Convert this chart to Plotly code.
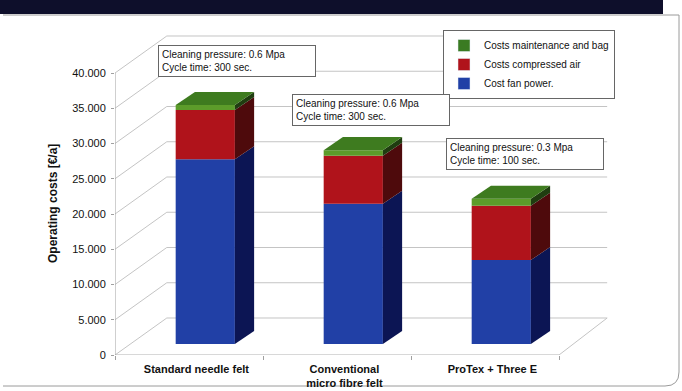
import plotly.graph_objects as go

# ---------------- data ----------------
categories = ["Standard needle felt", "Conventional<br>micro fibre felt", "ProTex + Three E"]
fan_power = [26200, 19900, 11900]          # Cost fan power
compressed_air = [7000, 6800, 7700]        # Costs compressed air
maintenance_bag = [700, 800, 1000]         # Costs maintenance and bag
series_names = ["Cost fan power.", "Costs compressed air", "Costs maintenance and bag"]
notes = ["Cleaning pressure: 0.6 Mpa<br>Cycle time: 300 sec.",
         "Cleaning pressure: 0.6 Mpa<br>Cycle time: 300 sec.",
         "Cleaning pressure: 0.3 Mpa<br>Cycle time: 100 sec."]
y_ticks = list(range(0, 40001, 5000))

# ---------------- geometry / style ----------------
WIDTH, HEIGHT = 682, 391
L, R, T, B = 115, 615, 30, 355
PW, PH = R - L, B - T
CAT_PX = 148.0
PX_PER_UNIT_Y = 7.05 / 1000.0
XMIN = -0.5
XMAX = XMIN + PW / CAT_PX
YMAX = PH / PX_PER_UNIT_Y

wall_dx, wall_dy = 0.35, 5250          # depth of the 3D box
bar_base, bar_w, bar_off = 1560, 0.40, -0.09
bar_dx, bar_dy = 0.13, 1850            # depth of the bars

front_cols = ["#2140a6", "#b0131b", "#5c9c2a"]
side_cols = ["#0c1554", "#4e0a0c", "#1f3d10"]
top_col = "#3e7b1f"
legend_cols = ["#2140a6", "#b0131b", "#3a7b22"]
grid_col = "#c4c4c4"
FONT = "Arial, Liberation Sans, sans-serif"


def px_x(px):
    return (px - L) / PW


def px_y(py):
    return (B - py) / PH


series = [fan_power, compressed_air, maintenance_bag]
xs = list(range(len(categories)))

fig = go.Figure()
shapes = []

# stacked bars (front faces) with explicit bases
cum = [bar_base] * len(categories)
for s_idx, vals in enumerate(series):
    fig.add_trace(go.Bar(
        x=xs, y=vals, base=list(cum), width=bar_w, offset=bar_off,
        name=series_names[s_idx],
        marker=dict(color=front_cols[s_idx], line=dict(width=0)),
        showlegend=False,
    ))
    # side faces
    for i, v in enumerate(vals):
        xr = xs[i] + bar_off + bar_w
        b0, t0 = cum[i], cum[i] + v
        shapes.append(dict(
            type="path", xref="x", yref="y", layer="above",
            path=f"M {xr},{b0} L {xr + bar_dx},{b0 + bar_dy} L {xr + bar_dx},{t0 + bar_dy} L {xr},{t0} Z",
            fillcolor=side_cols[s_idx], line=dict(width=0)))
    cum = [c + v for c, v in zip(cum, vals)]

# top faces
for i, topv in enumerate(cum):
    xl = xs[i] + bar_off
    xr = xl + bar_w
    shapes.append(dict(
        type="path", xref="x", yref="y", layer="above",
        path=f"M {xl},{topv} L {xr},{topv} L {xr + bar_dx},{topv + bar_dy} L {xl + bar_dx},{topv + bar_dy} Z",
        fillcolor=top_col, line=dict(width=0)))

# legend entries (reversed order as in reference)
for s_idx in reversed(range(len(series))):
    fig.add_trace(go.Bar(x=[None], y=[None], name=series_names[s_idx],
                         marker=dict(color=legend_cols[s_idx]), showlegend=True))

# 3D gridlines: slanted from front axis to back wall, then horizontal
x_back_end = (len(categories) - 0.5) + wall_dx * 0.93
for v in y_ticks:
    shapes.append(dict(type="line", xref="x", yref="y", layer="below",
                       x0=XMIN, y0=v, x1=XMIN + wall_dx, y1=v + wall_dy,
                       line=dict(color=grid_col, width=1)))
    shapes.append(dict(type="line", xref="x", yref="y", layer="below",
                       x0=XMIN + wall_dx, y0=v + wall_dy, x1=x_back_end, y1=v + wall_dy,
                       line=dict(color=grid_col, width=1)))
# floor front line and right edge
x_front_end = len(categories) - 0.5
shapes.append(dict(type="line", xref="x", yref="y", layer="below",
                   x0=XMIN, y0=0, x1=x_front_end, y1=0, line=dict(color="#b0b0b0", width=1)))
shapes.append(dict(type="line", xref="x", yref="y", layer="below",
                   x0=x_front_end, y0=0, x1=x_back_end, y1=wall_dy, line=dict(color=grid_col, width=1)))
# front vertical axis
shapes.append(dict(type="line", xref="x", yref="y", layer="below",
                   x0=XMIN, y0=0, x1=XMIN, y1=y_ticks[-1], line=dict(color="#a0a0a0", width=1)))

# dark title band at the top and panel frame
shapes.append(dict(type="rect", xref="paper", yref="paper", layer="below",
                   x0=px_x(0), x1=px_x(663), y0=px_y(14), y1=px_y(0),
                   fillcolor="#0e0f2b", line=dict(width=0)))
fl, ft, fr, fb, rad = 3, 15, 679, 386, 14
shapes.append(dict(type="path", xref="paper", yref="paper", layer="below",
                   path=(f"M {px_x(fl)},{px_y(ft)} L {px_x(fr)},{px_y(ft)} "
                         f"L {px_x(fr)},{px_y(fb - rad)} Q {px_x(fr)},{px_y(fb)} {px_x(fr - rad)},{px_y(fb)} "
                         f"L {px_x(fl)},{px_y(fb)}"),
                   line=dict(color="#9a9a9a", width=1)))

# annotation boxes
note_pos = [(158, 45), (292, 94), (446, 138)]
annotations = []
for (nx, ny), txt in zip(note_pos, notes):
    annotations.append(dict(
        xref="paper", yref="paper", x=px_x(nx), y=px_y(ny), xanchor="left", yanchor="top",
        text=txt, showarrow=False, align="left", width=150,
        font=dict(family=FONT, size=10, color="#111"),
        bgcolor="white", bordercolor="#666", borderwidth=1, borderpad=3))

# y-axis title
annotations.append(dict(
    xref="paper", yref="paper", x=px_x(53), y=px_y(204), xanchor="center", yanchor="middle",
    text="<b>Operating costs [€/a]</b>", textangle=-90, showarrow=False,
    font=dict(family=FONT, size=12, color="#111")))

fig.update_layout(
    width=WIDTH, height=HEIGHT, autosize=False,
    margin=dict(l=L, r=WIDTH - R, t=T, b=HEIGHT - B, pad=0),
    paper_bgcolor="white", plot_bgcolor="rgba(0,0,0,0)",
    barmode="overlay", separators=",.",
    font=dict(family=FONT, size=11, color="#111"),
    xaxis=dict(range=[XMIN, XMAX], tickmode="array",
               tickvals=[x + 0.05 for x in xs],
               ticktext=[f"<b>{c}</b>" for c in categories],
               showgrid=False, zeroline=False, showline=False, ticks="",
               ticklabelstandoff=6, automargin=False,
               tickfont=dict(family=FONT, size=11, color="#111"),
               minor=dict(tickmode="array", tickvals=[x - 0.5 for x in xs] + [x_front_end],
                          ticks="outside", ticklen=4, tickcolor="#a0a0a0", showgrid=False),
               fixedrange=True),
    yaxis=dict(range=[0, YMAX], tickmode="array", tickvals=y_ticks, tickformat=",d",
               showgrid=False, zeroline=False, showline=False, automargin=False,
               ticks="outside", ticklen=3, tickcolor="#a0a0a0", ticklabelstandoff=3,
               tickfont=dict(family=FONT, size=11, color="#111"), fixedrange=True),
    legend=dict(x=px_x(443), y=px_y(30), xanchor="left", yanchor="top",
                bgcolor="white", bordercolor="#666", borderwidth=1,
                font=dict(family=FONT, size=10, color="#111"),
                tracegroupgap=0, itemwidth=30),
    shapes=shapes, annotations=annotations,
)

fig.write_html("out.html")
